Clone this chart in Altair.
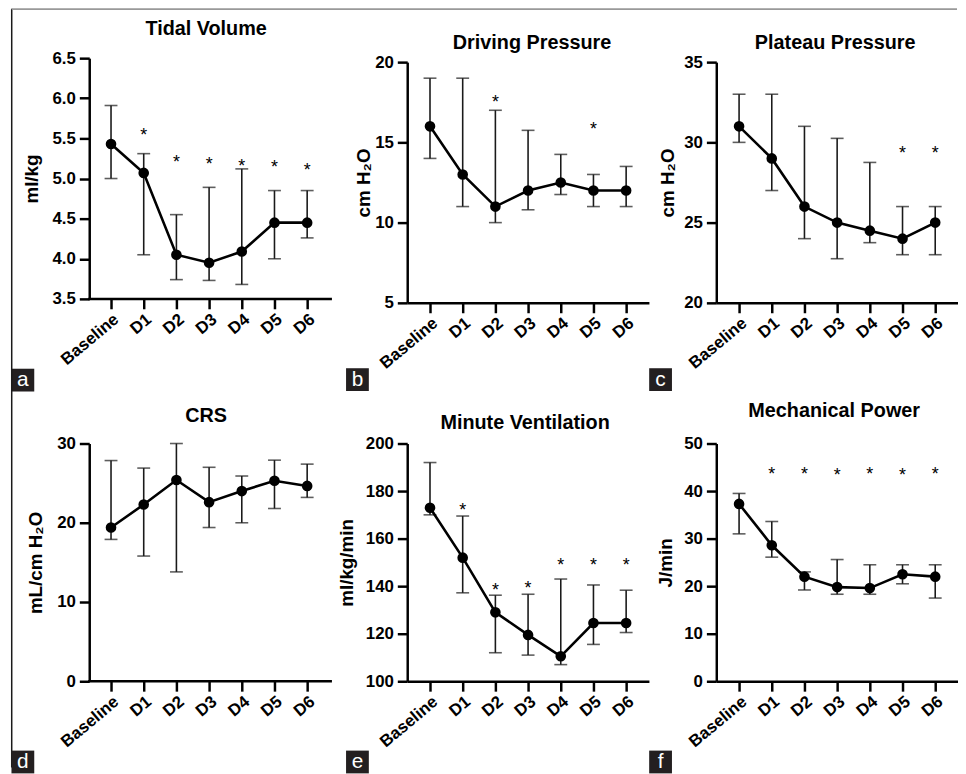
import altair as alt
import pandas as pd

cats = ["Baseline", "D1", "D2", "D3", "D4", "D5", "D6"]

# a: Tidal Volume (ml/kg)
tv_mean = [5.43, 5.07, 4.05, 3.95, 4.09, 4.45, 4.45]
tv_low = [5.00, 4.05, 3.74, 3.73, 3.68, 4.00, 4.26]
tv_high = [5.91, 5.31, 4.55, 4.89, 5.12, 4.85, 4.85]
tv_star = [None, 5.59, 5.26, 5.23, 5.21, 5.19, 5.16]

# b: Driving Pressure (cm H2O)
dp_mean = [16.0, 13.0, 11.0, 12.0, 12.5, 12.0, 12.0]
dp_low = [14.0, 11.0, 10.0, 10.8, 11.75, 11.0, 11.0]
dp_high = [19.0, 19.0, 17.0, 15.75, 14.25, 13.0, 13.5]
dp_star = [None, None, 17.75, None, None, 16.05, None]

# c: Plateau Pressure (cm H2O)
pp_mean = [31.0, 29.0, 26.0, 25.0, 24.5, 24.0, 25.0]
pp_low = [30.0, 27.0, 24.0, 22.75, 23.75, 23.0, 23.0]
pp_high = [33.0, 33.0, 31.0, 30.25, 28.75, 26.0, 26.0]
pp_star = [None, None, None, None, None, 29.6, 29.6]

# d: CRS (mL/cm H2O)
crs_mean = [19.4, 22.3, 25.4, 22.6, 24.0, 25.3, 24.65]
crs_low = [17.9, 15.8, 13.8, 19.4, 20.0, 21.8, 23.2]
crs_high = [27.85, 26.9, 30.0, 27.0, 25.9, 27.9, 27.4]
crs_star = [None, None, None, None, None, None, None]

# e: Minute Ventilation (ml/kg/min)
mv_mean = [173.0, 152.0, 129.0, 119.5, 110.5, 124.5, 124.5]
mv_low = [170.0, 137.2, 112.0, 111.0, 107.0, 115.5, 120.5]
mv_high = [192.0, 169.5, 136.2, 136.6, 143.0, 140.5, 138.3]
mv_star = [None, 173.7, 140.0, 141.0, 150.5, 150.5, 150.5]

# f: Mechanical Power (J/min)
mp_mean = [37.3, 28.6, 22.0, 19.8, 19.6, 22.5, 22.0]
mp_low = [31.0, 26.1, 19.2, 18.3, 18.3, 20.5, 17.5]
mp_high = [39.5, 33.6, 23.0, 25.6, 24.5, 24.5, 24.5]
mp_star = [None, 44.5, 44.5, 44.2, 44.5, 44.2, 44.5]

FONT = "Liberation Sans"
H1, H2 = 243, 240


def panel(mean, low, high, star, dom, ticks, fmt, ytitle, tpad,
          title, tx, ty, letter, bx, by, col, H, shift=0, extra=None):
    first = col == 1
    W = 253 if first else 244
    df = pd.DataFrame({"cat": cats, "mean": mean, "low": low,
                       "high": high, "star": star})
    xscale = alt.Scale(type="point", padding=0.8333 if first else 0.697,
                       align=0.4 if first else 0.5)
    xax_kw = dict(title=None, labelAngle=320, domain=not first,
                  labelPadding=2)
    if shift:
        xax_kw["offset"] = -shift
    xax = alt.Axis(**xax_kw)
    X = alt.X("cat:O", sort=cats, scale=xscale, axis=xax)
    if shift:
        yscale = alt.Scale(domain=dom, nice=False, zero=False,
                           range=[H - shift, -shift])
    else:
        yscale = alt.Scale(domain=dom, nice=False, zero=False)
    yax = alt.Axis(values=ticks, format=fmt, title=ytitle,
                   titlePadding=tpad, labelPadding=4)

    def Y(f):
        return alt.Y(f"{f}:Q", scale=yscale, axis=yax)

    base = alt.Chart(df)
    layers = [
        base.mark_rule(color="#1a1a1a", strokeWidth=1.6).encode(
            x=X, y=Y("low"), y2="high:Q"),
        base.mark_tick(color="#1a1a1a", thickness=1.6, size=13).encode(
            x=X, y=Y("low")),
        base.mark_tick(color="#1a1a1a", thickness=1.6, size=13).encode(
            x=X, y=Y("high")),
        base.mark_line(color="black", strokeWidth=2.6).encode(
            x=X, y=Y("mean")),
        base.mark_circle(size=115, color="black", opacity=1).encode(
            x=X, y=Y("mean")),
        base.transform_filter("isValid(datum.star) && isFinite(datum.star)")
        .mark_text(text="*", font=FONT, fontSize=18, color="black",
                   baseline="alphabetic", dy=10)
        .encode(x=X, y=Y("star")),
    ]
    one = pd.DataFrame({"t": [title], "l": [letter]})
    layers.append(
        alt.Chart(one).mark_text(font=FONT, fontSize=20, fontWeight="bold",
                                 color="black", align="center",
                                 baseline="middle")
        .encode(x=alt.value(tx), y=alt.value(ty), text="t:N"))
    layers.append(
        alt.Chart(one).mark_rect(color="#231f20")
        .encode(x=alt.value(bx), x2=alt.value(bx + 23),
                y=alt.value(by), y2=alt.value(by + 23)))
    layers.append(
        alt.Chart(one).mark_text(font=FONT, fontSize=21, color="white",
                                 align="center", baseline="alphabetic")
        .encode(x=alt.value(bx + 11.5), y=alt.value(by + 17.5), text="l:N"))
    if first:
        layers.append(
            alt.Chart(one).mark_rule(color="black", strokeWidth=2.5)
            .encode(x=alt.value(-1), x2=alt.value(245),
                    y=alt.value(H - shift)))
    if extra:
        layers.extend(extra)
    return alt.layer(*layers).properties(width=W, height=H)


frame_df = pd.DataFrame({"k": [1]})
frame = [
    alt.Chart(frame_df).mark_rule(color="#1a1a1a", strokeWidth=1.5)
    .encode(x=alt.value(-78.25), y=alt.value(-54), y2=alt.value(712)),
    alt.Chart(frame_df).mark_rule(color="#999999", strokeWidth=2)
    .encode(x=alt.value(-78.25), x2=alt.value(876), y=alt.value(-53.5)),
]

pa = panel(tv_mean, tv_low, tv_high, tv_star, [3.5, 6.5],
           [3.5, 4.0, 4.5, 5.0, 5.5, 6.0, 6.5], ".1f", "ml/kg", 11,
           "Tidal Volume", 118, -33, "a", -78.5, 309.5, 1, H1, shift=4,
           extra=frame)
pb = panel(dp_mean, dp_low, dp_high, dp_star, [5, 20], [5, 10, 15, 20],
           "d", "cm H\u2082O", 1,
           "Driving Pressure", 126, -19, "b", -61.75, 309, 2, H1)
pc = panel(pp_mean, pp_low, pp_high, pp_star, [20, 35], [20, 25, 30, 35],
           "d", "cm H\u2082O", 6,
           "Plateau Pressure", 120, -19, "c", -67.75, 309, 3, H1)
pd_ = panel(crs_mean, crs_low, crs_high, crs_star, [0, 30], [0, 10, 20, 30],
            "d", "mL/cm H\u2082O", 11,
            "CRS", 118, -28, "d", -78.5, 310, 1, H2)
pe = panel(mv_mean, mv_low, mv_high, mv_star, [100, 200],
           [100, 120, 140, 160, 180, 200], "d", "ml/kg/min", 9,
           "Minute Ventilation", 119, -21, "e", -61.75, 310, 2, H2)
pf = panel(mp_mean, mp_low, mp_high, mp_star, [0, 50],
           [0, 10, 20, 30, 40, 50], "d", "J/min", 8,
           "Mechanical Power", 119, -33, "f", -67.75, 310, 3, H2)

chart = alt.concat(
    pa, pb, pc, pd_, pe, pf, columns=3,
    spacing={"row": 142, "column": 68}, bounds="flush", align="each",
).properties(
    padding={"left": 2, "top": -4, "right": 0, "bottom": 0},
    background="white",
).configure_axis(
    domainColor="black", domainWidth=2.5, tickColor="black", tickWidth=2.5,
    tickSize=10, labelFont=FONT, labelFontSize=17, labelFontWeight="bold",
    labelColor="black", titleFont=FONT, titleFontSize=19,
    titleFontWeight="bold", titleColor="black", grid=False,
    labelFlush=False, labelOverlap=False,
).configure_view(strokeWidth=0)

chart.save("out.html", embed_options={"renderer": "svg", "actions": False})
